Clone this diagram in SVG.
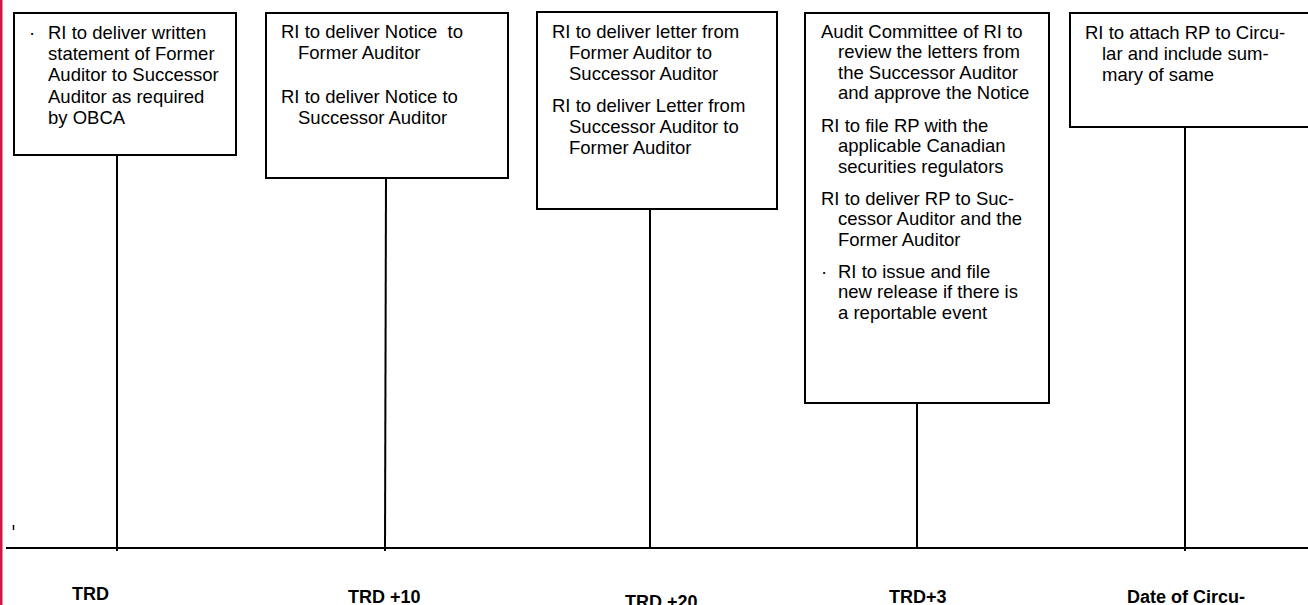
<svg xmlns="http://www.w3.org/2000/svg" width="1308" height="605" viewBox="0 0 1308 605">
<style>
.box{fill:#fff;stroke:#000;stroke-width:2}
.ln{stroke:#000;stroke-width:2;fill:none}
.t{font-family:"Liberation Sans",Arial,sans-serif;font-size:18.5px;fill:#000}
.lb{font-family:"Liberation Sans",Arial,sans-serif;font-size:18px;font-weight:bold;fill:#000}
</style>
<rect x="0" y="0" width="1308" height="605" fill="#fff"/>
<rect x="0" y="0" width="2.5" height="605" fill="#d21743"/>
<g id="connectors">
<line class="ln" x1="6" y1="548" x2="1308" y2="548"/>
<line class="ln" x1="117" y1="155" x2="117" y2="551"/>
<line class="ln" x1="386" y1="178" x2="385" y2="551"/>
<line class="ln" x1="650" y1="209" x2="650" y2="549"/>
<line class="ln" x1="917" y1="403" x2="917" y2="549"/>
<line class="ln" x1="1185" y1="127" x2="1185" y2="551"/>
<line x1="13.5" y1="525" x2="13.5" y2="530" stroke="#000" stroke-width="1.5"/>
</g>
<g id="node-trd">
<rect class="box" x="14" y="13" width="222" height="142"/>
<text class="t"><tspan x="29" y="39">·</tspan><tspan x="48" y="39">RI to deliver written</tspan><tspan x="48" y="60">statement of Former</tspan><tspan x="48" y="81">Auditor to Successor</tspan><tspan x="48" y="103">Auditor as required</tspan><tspan x="48" y="124">by OBCA</tspan></text>
</g>
<g id="node-trd10">
<rect class="box" x="266" y="13" width="242" height="165"/>
<text class="t"><tspan x="281" y="38" xml:space="preserve">RI to deliver Notice  to</tspan><tspan x="298" y="59">Former Auditor</tspan><tspan x="281" y="103">RI to deliver Notice to</tspan><tspan x="298" y="124">Successor Auditor</tspan></text>
</g>
<g id="node-trd20">
<rect class="box" x="537" y="12" width="240" height="197"/>
<text class="t"><tspan x="552" y="38">RI to deliver letter from</tspan><tspan x="569" y="59">Former Auditor to</tspan><tspan x="569" y="80">Successor Auditor</tspan><tspan x="552" y="112">RI to deliver Letter from</tspan><tspan x="569" y="133">Successor Auditor to</tspan><tspan x="569" y="154">Former Auditor</tspan></text>
</g>
<g id="node-trd3">
<rect class="box" x="805" y="13" width="244" height="390"/>
<text class="t"><tspan x="821" y="38">Audit Committee of RI to</tspan><tspan x="838" y="58">review the letters from</tspan><tspan x="838" y="79">the Successor Auditor</tspan><tspan x="838" y="99">and approve the Notice</tspan><tspan x="821" y="132">RI to file RP with the</tspan><tspan x="838" y="152">applicable Canadian</tspan><tspan x="838" y="173">securities regulators</tspan><tspan x="821" y="205">RI to deliver RP to Suc-</tspan><tspan x="838" y="225">cessor Auditor and the</tspan><tspan x="838" y="246">Former Auditor</tspan><tspan x="821" y="278">·</tspan><tspan x="838" y="278">RI to issue and file</tspan><tspan x="838" y="298">new release if there is</tspan><tspan x="838" y="319">a reportable event</tspan></text>
</g>
<g id="node-circular">
<rect class="box" x="1070" y="13" width="240" height="114"/>
<text class="t"><tspan x="1085" y="39">RI to attach RP to Circu-</tspan><tspan x="1102" y="60">lar and include sum-</tspan><tspan x="1102" y="81">mary of same</tspan></text>
</g>
<g id="labels">
<text class="lb" x="72" y="600">TRD</text>
<text class="lb" x="348" y="603">TRD +10</text>
<text class="lb" x="625" y="608">TRD +20</text>
<text class="lb" x="889" y="603">TRD+3</text>
<text class="lb" x="1127" y="603">Date of Circu-</text>
</g>
</svg>
